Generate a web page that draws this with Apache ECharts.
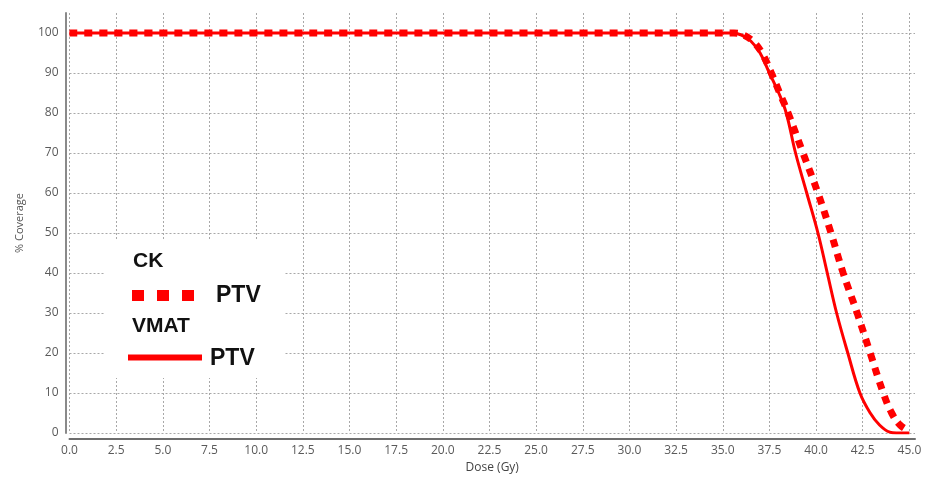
<!DOCTYPE html>
<html>
<head>
<meta charset="utf-8">
<script src="https://cdn.jsdelivr.net/npm/echarts@6/dist/echarts.min.js"></script>
<style>html,body{margin:0;padding:0;background:#fff}#c{width:928px;height:481px}</style>
</head>
<body>
<div id="c"></div>
<script>
// VMAT PTV (solid)
const vmatDose     = [0, 35.5, 36.0, 36.5, 37.0, 37.5, 38.0, 38.4, 38.9, 39.5, 40.1, 40.6, 41.1, 41.7, 42.35, 42.9, 43.4, 43.95, 44.3, 45.0];
const vmatCoverage = [100, 100, 99.5, 98, 95, 90, 85, 80, 70, 60, 50, 40, 30, 20, 10, 5, 2, 0.2, 0, 0];
// CK PTV (dashed)
const ckDose       = [0, 35.6, 36.1, 36.6, 37.1, 37.6, 38.05, 38.5, 39.3, 40.1, 40.8, 41.45, 42.2, 42.9, 43.6, 44.05, 44.5, 45.0];
const ckCoverage   = [100, 100, 99.5, 98, 95, 90, 85, 80, 70, 60, 50, 40, 30, 20, 10, 5, 2, 0.5];

const legendGroups = ['CK', 'VMAT'];
const legendLabel = 'PTV';

const zip = (a, b) => a.map((v, i) => [v, b[i]]);

const chart = echarts.init(document.getElementById('c'), null, {renderer: 'canvas'});
const gridLine = {show: true, lineStyle: {color: '#a8a8a8', type: [2, 2], width: 1}, showMaxLine: false};
const labelFont = {color: '#5a5a5a', fontFamily: 'Open Sans', fontSize: 12};
chart.setOption({
  animation: false,
  backgroundColor: '#fff',
  grid: {left: 69.5, right: 13, top: 13, bottom: 48},
  xAxis: {
    type: 'value', min: 0, max: 45.3, interval: 2.5,
    offset: 6,
    name: 'Dose (Gy)', nameLocation: 'middle', nameGap: 21,
    nameTextStyle: {color: '#444', fontFamily: 'Open Sans', fontSize: 12},
    axisLine: {show: true, onZero: false, lineStyle: {color: '#6e6e6e', width: 2}},
    axisTick: {show: false},
    axisLabel: Object.assign({margin: 6, showMaxLabel: false, formatter: v => v.toFixed(1)}, labelFont),
    splitLine: gridLine
  },
  yAxis: {
    type: 'value', min: 0, max: 105, interval: 10,
    offset: 4,
    name: '% Coverage', nameLocation: 'middle', nameGap: 40, nameRotate: 90,
    nameTextStyle: {color: '#555', fontFamily: 'Open Sans', fontSize: 11},
    axisLine: {show: true, onZero: false, lineStyle: {color: '#8a8a8a', width: 2}},
    axisTick: {show: false},
    axisLabel: Object.assign({margin: 7, showMaxLabel: false}, labelFont),
    splitLine: gridLine
  },
  series: [
    {
      name: 'VMAT PTV', type: 'line', data: zip(vmatDose, vmatCoverage),
      smooth: 0.4, showSymbol: false,
      lineStyle: {color: '#ff0000', width: 3}
    },
    {
      name: 'CK PTV', type: 'line', data: zip(ckDose, ckCoverage),
      smooth: 0.4, showSymbol: false,
      lineStyle: {color: '#ff0000', width: 7, type: [8, 7], cap: 'butt'}
    }
  ],
  graphic: [
    {type: 'rect', shape: {x: 104, y: 240, width: 181, height: 138}, style: {fill: '#fff'}, z: 10},
    {type: 'text', left: 133, top: 251, z: 11, style: {text: legendGroups[0], font: 'bold 21px "Liberation Sans", Arial', fill: '#111'}},
    {type: 'line', shape: {x1: 132, y1: 295.5, x2: 196, y2: 295.5}, z: 11,
     style: {stroke: '#ff0000', lineWidth: 11, lineDash: [12, 13], lineCap: 'butt'}},
    {type: 'text', left: 216, top: 284, z: 11, style: {text: legendLabel, font: 'bold 23px "Liberation Sans", Arial', fill: '#111'}},
    {type: 'text', left: 132, top: 316, z: 11, style: {text: legendGroups[1], font: 'bold 21px "Liberation Sans", Arial', fill: '#111'}},
    {type: 'line', shape: {x1: 128, y1: 357.5, x2: 202, y2: 357.5}, z: 11,
     style: {stroke: '#ff0000', lineWidth: 6, lineCap: 'butt'}},
    {type: 'text', left: 210, top: 347, z: 11, style: {text: legendLabel, font: 'bold 23px "Liberation Sans", Arial', fill: '#111'}}
  ]
});
</script>
</body>
</html>
